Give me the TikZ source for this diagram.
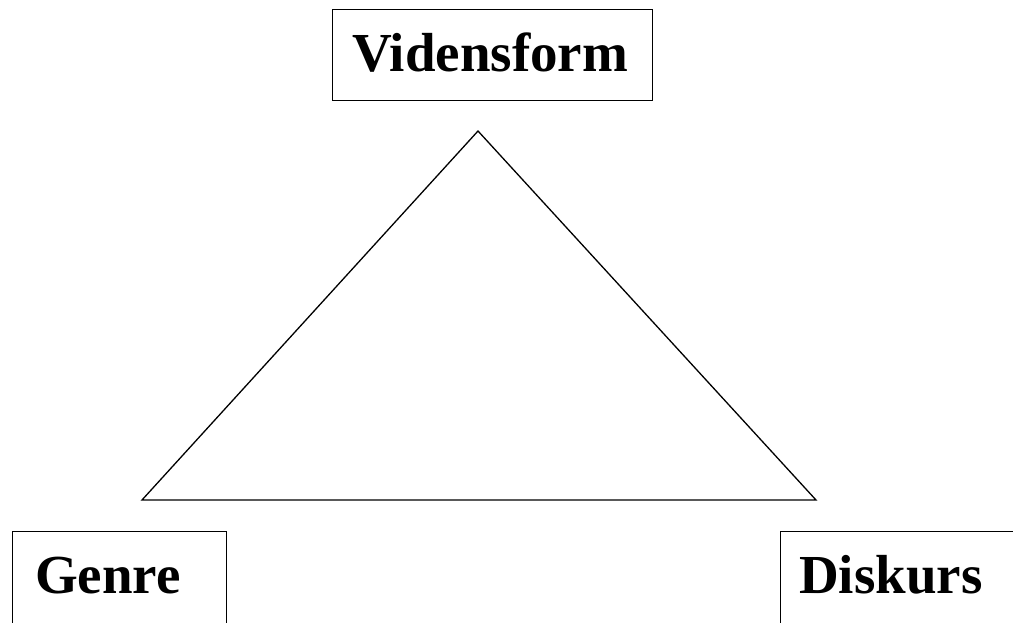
\documentclass[tikz,border=0pt]{standalone}
\usepackage{fontspec}
\setmainfont{Liberation Serif}
\begin{document}
\begin{tikzpicture}[x=1pt,y=-1pt,
  box/.style={draw, line width=1.4pt, rectangle, inner sep=0pt, anchor=north west},
  lbl/.style={inner sep=0pt, anchor=base west, font=\fontsize{55}{66}\selectfont\bfseries},
  tri/.style={line width=1.3pt, line join=miter}]
\useasboundingbox (0,0) rectangle (1013,623);
% top box
\node[box, minimum width=320pt, minimum height=91pt] (vbox) at (332,9) {};
\node[lbl] (vtext) at (352,72) {Vidensform};
% bottom-left box (runs off the page)
\node[box, minimum width=214pt, minimum height=140pt] (gbox) at (12,531) {};
\node[lbl] (gtext) at (35,593) {Genre};
% bottom-right box (runs off the page)
\node[box, minimum width=280pt, minimum height=140pt] (dbox) at (780,531) {};
\node[lbl] (dtext) at (799,593) {Diskurs};
% triangle
\coordinate (apex) at (478,131);
\coordinate (bl) at (142,500);
\coordinate (br) at (816,500);
\draw[tri] (apex) -- (bl) -- (br) -- cycle;
\end{tikzpicture}
\end{document}
